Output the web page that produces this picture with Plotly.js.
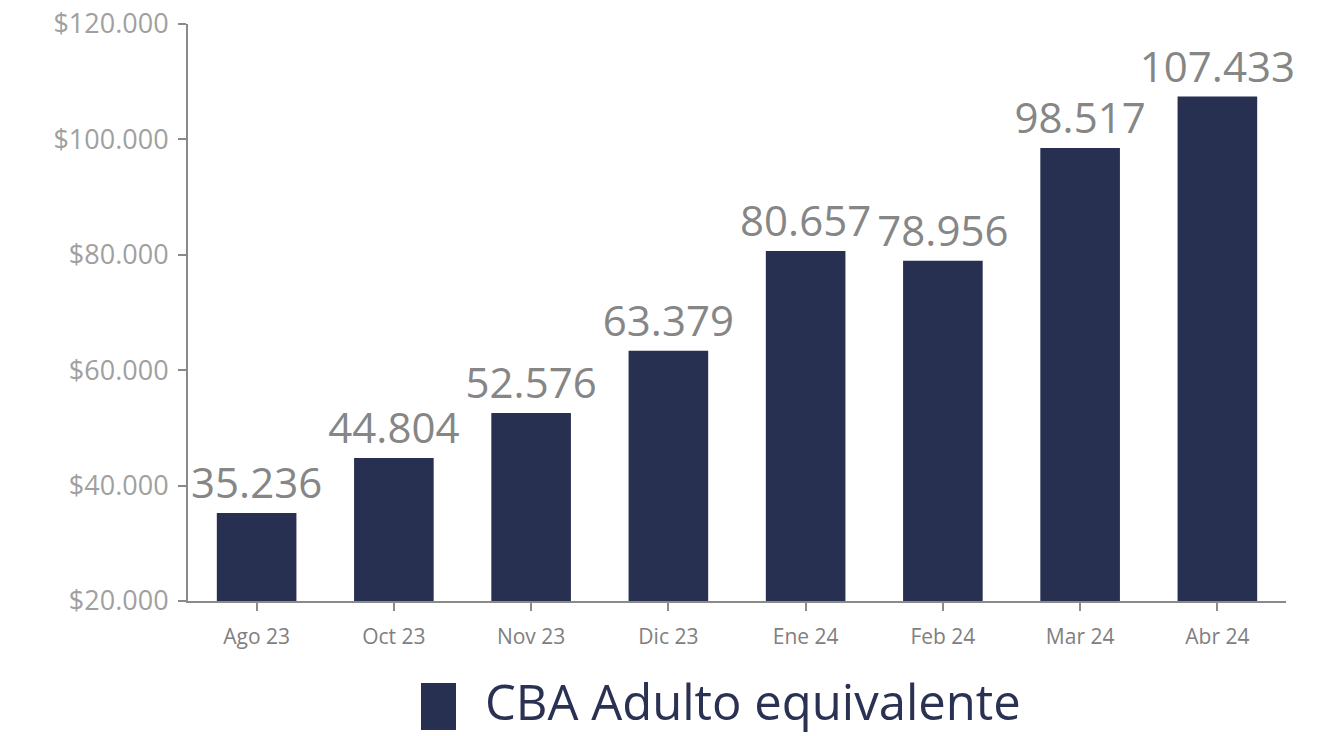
<!DOCTYPE html>
<html>
<head>
<meta charset="utf-8">
<script src="https://cdn.plot.ly/plotly-3.0.1.min.js"></script>
<style>html,body{margin:0;padding:0;background:#fff;}#chart{width:1332px;height:736px;}</style>
</head>
<body>
<div id="chart"></div>
<script>
const categories = ["Ago 23", "Oct 23", "Nov 23", "Dic 23", "Ene 24", "Feb 24", "Mar 24", "Abr 24"];
const values = [35236, 44804, 52576, 63379, 80657, 78956, 98517, 107433];
const seriesName = "CBA Adulto equivalente";
const yTicks = [20000, 40000, 60000, 80000, 100000, 120000];
const yTickText = yTicks.map(v => "$" + v.toLocaleString("de-DE"));

const FONT = "Open Sans, Lato, sans-serif";
const NAVY = "#283052";

const trace = {
  type: "bar",
  x: categories,
  y: values,
  name: seriesName,
  marker: {color: NAVY},
  texttemplate: "%{y:,d}",
  textposition: "outside",
  constraintext: "none",
  cliponaxis: false,
  textfont: {family: FONT, size: 42, color: "#868686"},
  hoverinfo: "x+y",
  showlegend: false
};

const layout = {
  width: 1332,
  height: 736,
  margin: {l: 188, r: 46, t: 24, b: 135},
  paper_bgcolor: "#ffffff",
  plot_bgcolor: "#ffffff",
  separators: ",.",
  bargap: 0.42,
  showlegend: false,
  font: {family: FONT},
  xaxis: {
    type: "category",
    showline: true,
    linecolor: "#8a8a8a",
    linewidth: 2,
    ticks: "outside",
    ticklen: 8,
    tickwidth: 2,
    tickcolor: "#8a8a8a",
    ticklabelstandoff: 8,
    tickfont: {family: FONT, size: 21, color: "#808080"},
    showgrid: false,
    zeroline: false
  },
  yaxis: {
    range: [20000, 120000],
    tickmode: "array",
    tickvals: yTicks,
    ticktext: yTickText,
    showline: true,
    linecolor: "#8a8a8a",
    linewidth: 2,
    ticks: "outside",
    ticklen: 8,
    tickwidth: 2,
    tickcolor: "#8a8a8a",
    ticklabelstandoff: 4,
    tickfont: {family: FONT, size: 27, color: "#a0a0a0"},
    showgrid: false,
    zeroline: false
  },
  shapes: [{
    type: "rect",
    xref: "paper", yref: "paper",
    x0: (421 - 188) / 1098, x1: (456 - 188) / 1098,
    y0: -(730 - 601) / 577, y1: -(683 - 601) / 577,
    fillcolor: NAVY,
    line: {width: 0}
  }],
  annotations: [{
    xref: "paper", yref: "paper",
    x: (484 - 188) / 1098, y: -(701 - 601) / 577,
    xanchor: "left", yanchor: "middle",
    text: seriesName,
    showarrow: false,
    borderpad: 0,
    font: {family: FONT, size: 49, color: "#2a3152"}
  }]
};

Plotly.newPlot("chart", [trace], layout, {displayModeBar: false, staticPlot: true});
</script>
</body>
</html>
